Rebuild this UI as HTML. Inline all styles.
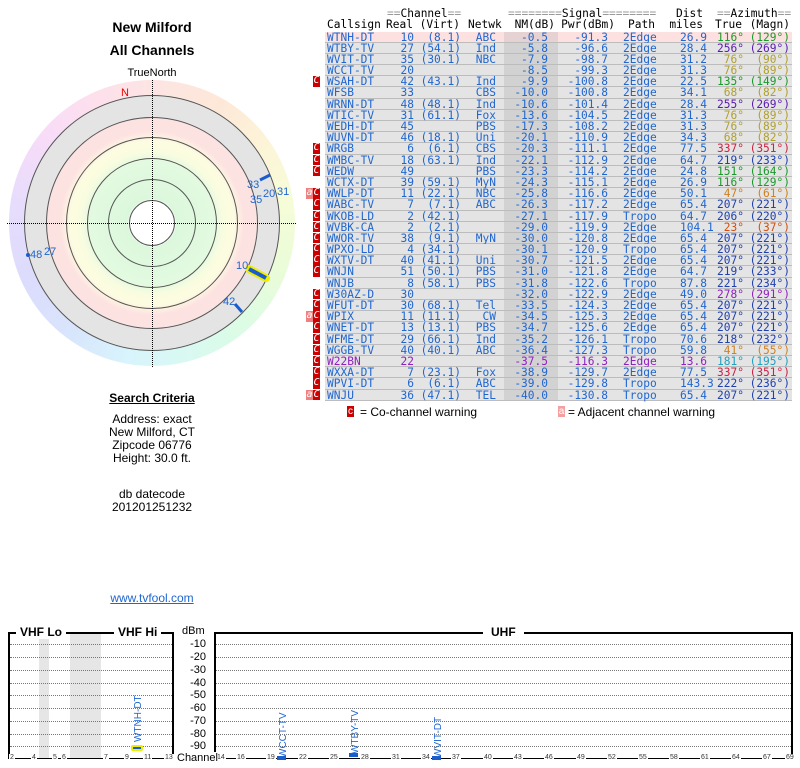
<!DOCTYPE html>
<html><head><meta charset="utf-8">
<style>
*{margin:0;padding:0;box-sizing:border-box}
body{width:800px;height:768px;background:#fff;position:relative;overflow:hidden;font-family:"Liberation Sans",sans-serif;color:#000}
.a{position:absolute}
.c{position:absolute;text-align:center}
#tbl{position:absolute;left:325px;top:31.5px;width:467px;font-family:"DejaVu Sans Mono","Liberation Mono",monospace;font-size:11.2px;color:#1f66d0}
.r{height:11.2px;line-height:11.2px;display:flex;background:#e4e4e4;border-bottom:1px solid #bcbcbc;position:relative;white-space:pre}
.r span{display:block;overflow:visible}
.s1{width:62px;padding-left:2px}
.s2{width:27px;text-align:right}
.s3{width:47px;text-align:right}
.s4{width:43px;text-align:right;padding-right:8px}
.s5{width:54px;text-align:right;padding-right:10px;background:#d2d2d2}
.s6{width:52px;text-align:right;padding-right:2px}
.s7{width:70px;padding-left:13px}
.s8{width:25px;text-align:right}
.s9{width:39px;text-align:right}
.s10{width:48px;text-align:right;padding-right:2px}
.mk{position:absolute;top:0;width:7px;height:10.5px;background:#c00;color:#fff;font-size:10px;line-height:10px;text-align:center;left:-12px}
.ma{position:absolute;top:0;width:7px;height:10.5px;background:#f08080;color:#fff;font-size:10px;line-height:10px;text-align:center;left:-19px}
.g{color:#1a9a2a}.p{color:#5a1ab0}.o{color:#b0a030}.cr{color:#cc2244}.b{color:#2040b0}.or{color:#d08020}.rr{color:#d05010}.t{color:#22a0c0}.m{color:#9020c0}
.h{position:absolute;font-family:"DejaVu Sans Mono","Liberation Mono",monospace;font-size:11.2px;white-space:pre;line-height:12px;color:#000}
.hr{text-align:right}
.eq{color:#999}
.tk{position:absolute;font-size:7px;color:#333;top:754px;background:#fff;padding:0 1px}
.dl{position:absolute;left:190px;width:16px;text-align:right;font-size:11px}
.hl{position:absolute;height:0;border-top:1px dotted #777}
</style></head><body>

<div class="c" style="left:52px;width:200px;top:19px;font-weight:bold;font-size:14px">New Milford</div>
<div class="c" style="left:52px;width:200px;top:42px;font-weight:bold;font-size:14px">All Channels</div>
<div class="c" style="left:102px;width:100px;top:67px;font-size:11px">TrueNorth</div>

<div class="a" style="left:9px;top:80px;width:286px;height:286px;border-radius:50%;background:conic-gradient(#fde4e4,#fde8d8 30deg,#fdf4d8 55deg,#f6fcd8 80deg,#eafcd8 110deg,#dcfce6 140deg,#d8f8f4 170deg,#d8f4fc 190deg,#d8e6fc 215deg,#dcdcfc 245deg,#e8dcfc 280deg,#f8dcf8 310deg,#fde0ec 335deg,#fde4e4)"></div>
<div class="a" style="left:24px;top:95px;width:256px;height:256px;border-radius:50%;background:radial-gradient(circle,#fff 0,#fff 23px,#dcf8dc 24px,#e2fae0 62px,#fafce0 72px,#fcfce0 82px,#fde2e2 92px,#fde2e2 104px,#e4e4e4 107px,#e4e4e4 128px);border:1px solid #555"></div>
<div class="a" style="left:46px;top:117px;width:212px;height:212px;border-radius:50%;border:1px solid #555"></div>
<div class="a" style="left:66px;top:137px;width:172px;height:172px;border-radius:50%;border:1px solid #555"></div>
<div class="a" style="left:87px;top:158px;width:130px;height:130px;border-radius:50%;border:1px solid #555"></div>
<div class="a" style="left:108px;top:179px;width:88px;height:88px;border-radius:50%;border:1px solid #555"></div>
<div class="a" style="left:129px;top:200px;width:46px;height:46px;border-radius:50%;border:1px solid #555;background:#fff"></div>
<div class="a" style="left:7px;top:223px;width:289px;border-top:1px dotted #000"></div>
<div class="a" style="left:152px;top:80px;height:287px;border-left:1px dotted #000"></div>
<div class="a" style="left:121px;top:87px;color:#e00;font-size:11px">N</div>
<svg class="a" style="left:0;top:0" width="300" height="400">
<line x1="260" y1="180" x2="270" y2="175" stroke="#1a5ccc" stroke-width="3"/>
<line x1="249" y1="269" x2="266" y2="278" stroke="#ee0" stroke-width="8" stroke-linecap="round"/>
<line x1="249" y1="269" x2="266" y2="278" stroke="#1a5ccc" stroke-width="4"/>
<line x1="235" y1="304" x2="242" y2="312" stroke="#1a5ccc" stroke-width="3"/>
<circle cx="28" cy="255" r="2" fill="#1a5ccc"/>
<g font-family="Liberation Sans" font-size="11" fill="#1f66d0">
<text x="247" y="188">33</text>
<text x="250" y="203">35</text><text x="263" y="197">20</text><text x="277" y="195">31</text>
<text x="236" y="269">10</text><text x="223" y="305">42</text>
<text x="30" y="258">48</text><text x="44" y="255">27</text>
</g></svg>

<div class="c" style="left:52px;width:200px;top:391px;font-weight:bold;font-size:12px;text-decoration:underline">Search Criteria</div>
<div class="c" style="left:52px;width:200px;top:413px;font-size:12px;line-height:13px">Address: exact<br>New Milford, CT<br>Zipcode 06776<br>Height: 30.0 ft.</div>
<div class="c" style="left:52px;width:200px;top:488px;font-size:12px;line-height:13px">db datecode<br>201201251232</div>
<div class="c" style="left:52px;width:200px;top:591px;font-size:12px;color:#1f66d0;text-decoration:underline">www.tvfool.com</div>

<!-- header -->
<div class="h" style="left:387px;top:8px"><span class="eq">==</span>Channel<span class="eq">==</span></div>
<div class="h" style="left:508px;top:8px"><span class="eq">========</span>Signal<span class="eq">========</span></div>
<div class="h hr" style="left:653px;width:50px;top:8px">Dist</div>
<div class="h" style="left:717px;top:8px"><span class="eq">==</span>Azimuth<span class="eq">==</span></div>
<div class="h" style="left:327px;top:19px">Callsign</div>
<div class="h hr" style="left:380px;width:33px;top:19px">Real</div>
<div class="h hr" style="left:410px;width:50px;top:19px">(Virt)</div>
<div class="h" style="left:468px;top:19px">Netwk</div>
<div class="h hr" style="left:505px;width:50px;top:19px">NM(dB)</div>
<div class="h hr" style="left:555px;width:60px;top:19px">Pwr(dBm)</div>
<div class="h hr" style="left:615px;width:40px;top:19px">Path</div>
<div class="h hr" style="left:663px;width:40px;top:19px">miles</div>
<div class="h hr" style="left:706px;width:36px;top:19px">True</div>
<div class="h hr" style="left:745px;width:45px;top:19px">(Magn)</div>

<div id="tbl">
<div class="r" style="background:#fde0e0"><span class="s1">WTNH-DT</span><span class="s2">10</span><span class="s3">(8.1)</span><span class="s4">ABC</span><span class="s5" style="background:#e6d2d2">-0.5</span><span class="s6">-91.3</span><span class="s7">2Edge</span><span class="s8">26.9</span><span class="s9 g">116°</span><span class="s10 g">(129°)</span></div>
<div class="r"><span class="s1">WTBY-TV</span><span class="s2">27</span><span class="s3">(54.1)</span><span class="s4">Ind</span><span class="s5">-5.8</span><span class="s6">-96.6</span><span class="s7">2Edge</span><span class="s8">28.4</span><span class="s9 p">256°</span><span class="s10 p">(269°)</span></div>
<div class="r"><span class="s1">WVIT-DT</span><span class="s2">35</span><span class="s3">(30.1)</span><span class="s4">NBC</span><span class="s5">-7.9</span><span class="s6">-98.7</span><span class="s7">2Edge</span><span class="s8">31.2</span><span class="s9 o">76°</span><span class="s10 o">(90°)</span></div>
<div class="r"><span class="s1">WCCT-TV</span><span class="s2">20</span><span class="s3"></span><span class="s4"></span><span class="s5">-8.5</span><span class="s6">-99.3</span><span class="s7">2Edge</span><span class="s8">31.3</span><span class="s9 o">76°</span><span class="s10 o">(89°)</span></div>
<div class="r"><i class="mk">C</i><span class="s1">WSAH-DT</span><span class="s2">42</span><span class="s3">(43.1)</span><span class="s4">Ind</span><span class="s5">-9.9</span><span class="s6">-100.8</span><span class="s7">2Edge</span><span class="s8">22.5</span><span class="s9 g">135°</span><span class="s10 g">(149°)</span></div>
<div class="r"><span class="s1">WFSB</span><span class="s2">33</span><span class="s3"></span><span class="s4">CBS</span><span class="s5">-10.0</span><span class="s6">-100.8</span><span class="s7">2Edge</span><span class="s8">34.1</span><span class="s9 o">68°</span><span class="s10 o">(82°)</span></div>
<div class="r"><span class="s1">WRNN-DT</span><span class="s2">48</span><span class="s3">(48.1)</span><span class="s4">Ind</span><span class="s5">-10.6</span><span class="s6">-101.4</span><span class="s7">2Edge</span><span class="s8">28.4</span><span class="s9 p">255°</span><span class="s10 p">(269°)</span></div>
<div class="r"><span class="s1">WTIC-TV</span><span class="s2">31</span><span class="s3">(61.1)</span><span class="s4">Fox</span><span class="s5">-13.6</span><span class="s6">-104.5</span><span class="s7">2Edge</span><span class="s8">31.3</span><span class="s9 o">76°</span><span class="s10 o">(89°)</span></div>
<div class="r"><span class="s1">WEDH-DT</span><span class="s2">45</span><span class="s3"></span><span class="s4">PBS</span><span class="s5">-17.3</span><span class="s6">-108.2</span><span class="s7">2Edge</span><span class="s8">31.3</span><span class="s9 o">76°</span><span class="s10 o">(89°)</span></div>
<div class="r"><span class="s1">WUVN-DT</span><span class="s2">46</span><span class="s3">(18.1)</span><span class="s4">Uni</span><span class="s5">-20.1</span><span class="s6">-110.9</span><span class="s7">2Edge</span><span class="s8">34.3</span><span class="s9 o">68°</span><span class="s10 o">(82°)</span></div>
<div class="r"><i class="mk">C</i><span class="s1">WRGB</span><span class="s2">6</span><span class="s3">(6.1)</span><span class="s4">CBS</span><span class="s5">-20.3</span><span class="s6">-111.1</span><span class="s7">2Edge</span><span class="s8">77.5</span><span class="s9 cr">337°</span><span class="s10 cr">(351°)</span></div>
<div class="r"><i class="mk">C</i><span class="s1">WMBC-TV</span><span class="s2">18</span><span class="s3">(63.1)</span><span class="s4">Ind</span><span class="s5">-22.1</span><span class="s6">-112.9</span><span class="s7">2Edge</span><span class="s8">64.7</span><span class="s9 b">219°</span><span class="s10 b">(233°)</span></div>
<div class="r"><i class="mk">C</i><span class="s1">WEDW</span><span class="s2">49</span><span class="s3"></span><span class="s4">PBS</span><span class="s5">-23.3</span><span class="s6">-114.2</span><span class="s7">2Edge</span><span class="s8">24.8</span><span class="s9 g">151°</span><span class="s10 g">(164°)</span></div>
<div class="r"><span class="s1">WCTX-DT</span><span class="s2">39</span><span class="s3">(59.1)</span><span class="s4">MyN</span><span class="s5">-24.3</span><span class="s6">-115.1</span><span class="s7">2Edge</span><span class="s8">26.9</span><span class="s9 g">116°</span><span class="s10 g">(129°)</span></div>
<div class="r"><i class="ma">a</i><i class="mk">C</i><span class="s1">WWLP-DT</span><span class="s2">11</span><span class="s3">(22.1)</span><span class="s4">NBC</span><span class="s5">-25.8</span><span class="s6">-116.6</span><span class="s7">2Edge</span><span class="s8">50.1</span><span class="s9 or">47°</span><span class="s10 or">(61°)</span></div>
<div class="r"><i class="mk">C</i><span class="s1">WABC-TV</span><span class="s2">7</span><span class="s3">(7.1)</span><span class="s4">ABC</span><span class="s5">-26.3</span><span class="s6">-117.2</span><span class="s7">2Edge</span><span class="s8">65.4</span><span class="s9 b">207°</span><span class="s10 b">(221°)</span></div>
<div class="r"><i class="mk">C</i><span class="s1">WKOB-LD</span><span class="s2">2</span><span class="s3">(42.1)</span><span class="s4"></span><span class="s5">-27.1</span><span class="s6">-117.9</span><span class="s7">Tropo</span><span class="s8">64.7</span><span class="s9 b">206°</span><span class="s10 b">(220°)</span></div>
<div class="r"><i class="mk">C</i><span class="s1">WVBK-CA</span><span class="s2">2</span><span class="s3">(2.1)</span><span class="s4"></span><span class="s5">-29.0</span><span class="s6">-119.9</span><span class="s7">2Edge</span><span class="s8">104.1</span><span class="s9 rr">23°</span><span class="s10 rr">(37°)</span></div>
<div class="r"><i class="mk">C</i><span class="s1">WWOR-TV</span><span class="s2">38</span><span class="s3">(9.1)</span><span class="s4">MyN</span><span class="s5">-30.0</span><span class="s6">-120.8</span><span class="s7">2Edge</span><span class="s8">65.4</span><span class="s9 b">207°</span><span class="s10 b">(221°)</span></div>
<div class="r"><i class="mk">C</i><span class="s1">WPXO-LD</span><span class="s2">4</span><span class="s3">(34.1)</span><span class="s4"></span><span class="s5">-30.1</span><span class="s6">-120.9</span><span class="s7">Tropo</span><span class="s8">65.4</span><span class="s9 b">207°</span><span class="s10 b">(221°)</span></div>
<div class="r"><i class="mk">C</i><span class="s1">WXTV-DT</span><span class="s2">40</span><span class="s3">(41.1)</span><span class="s4">Uni</span><span class="s5">-30.7</span><span class="s6">-121.5</span><span class="s7">2Edge</span><span class="s8">65.4</span><span class="s9 b">207°</span><span class="s10 b">(221°)</span></div>
<div class="r"><i class="mk">C</i><span class="s1">WNJN</span><span class="s2">51</span><span class="s3">(50.1)</span><span class="s4">PBS</span><span class="s5">-31.0</span><span class="s6">-121.8</span><span class="s7">2Edge</span><span class="s8">64.7</span><span class="s9 b">219°</span><span class="s10 b">(233°)</span></div>
<div class="r"><span class="s1">WNJB</span><span class="s2">8</span><span class="s3">(58.1)</span><span class="s4">PBS</span><span class="s5">-31.8</span><span class="s6">-122.6</span><span class="s7">Tropo</span><span class="s8">87.8</span><span class="s9 b">221°</span><span class="s10 b">(234°)</span></div>
<div class="r"><i class="mk">C</i><span class="s1">W30AZ-D</span><span class="s2">30</span><span class="s3"></span><span class="s4"></span><span class="s5">-32.0</span><span class="s6">-122.9</span><span class="s7">2Edge</span><span class="s8">49.0</span><span class="s9 m">278°</span><span class="s10 m">(291°)</span></div>
<div class="r"><i class="mk">C</i><span class="s1">WFUT-DT</span><span class="s2">30</span><span class="s3">(68.1)</span><span class="s4">Tel</span><span class="s5">-33.5</span><span class="s6">-124.3</span><span class="s7">2Edge</span><span class="s8">65.4</span><span class="s9 b">207°</span><span class="s10 b">(221°)</span></div>
<div class="r"><i class="ma">a</i><i class="mk">C</i><span class="s1">WPIX</span><span class="s2">11</span><span class="s3">(11.1)</span><span class="s4">CW</span><span class="s5">-34.5</span><span class="s6">-125.3</span><span class="s7">2Edge</span><span class="s8">65.4</span><span class="s9 b">207°</span><span class="s10 b">(221°)</span></div>
<div class="r"><i class="mk">C</i><span class="s1">WNET-DT</span><span class="s2">13</span><span class="s3">(13.1)</span><span class="s4">PBS</span><span class="s5">-34.7</span><span class="s6">-125.6</span><span class="s7">2Edge</span><span class="s8">65.4</span><span class="s9 b">207°</span><span class="s10 b">(221°)</span></div>
<div class="r"><i class="mk">C</i><span class="s1">WFME-DT</span><span class="s2">29</span><span class="s3">(66.1)</span><span class="s4">Ind</span><span class="s5">-35.2</span><span class="s6">-126.1</span><span class="s7">Tropo</span><span class="s8">70.6</span><span class="s9 b">218°</span><span class="s10 b">(232°)</span></div>
<div class="r"><i class="mk">C</i><span class="s1">WGGB-TV</span><span class="s2">40</span><span class="s3">(40.1)</span><span class="s4">ABC</span><span class="s5">-36.4</span><span class="s6">-127.3</span><span class="s7">Tropo</span><span class="s8">59.8</span><span class="s9 or">41°</span><span class="s10 or">(55°)</span></div>
<div class="r m"><i class="mk">C</i><span class="s1">W22BN</span><span class="s2">22</span><span class="s3"></span><span class="s4"></span><span class="s5">-37.5</span><span class="s6">-116.3</span><span class="s7">2Edge</span><span class="s8">13.6</span><span class="s9 t">181°</span><span class="s10 t">(195°)</span></div>
<div class="r"><i class="mk">C</i><span class="s1">WXXA-DT</span><span class="s2">7</span><span class="s3">(23.1)</span><span class="s4">Fox</span><span class="s5">-38.9</span><span class="s6">-129.7</span><span class="s7">2Edge</span><span class="s8">77.5</span><span class="s9 cr">337°</span><span class="s10 cr">(351°)</span></div>
<div class="r"><i class="mk">C</i><span class="s1">WPVI-DT</span><span class="s2">6</span><span class="s3">(6.1)</span><span class="s4">ABC</span><span class="s5">-39.0</span><span class="s6">-129.8</span><span class="s7">Tropo</span><span class="s8">143.3</span><span class="s9 b">222°</span><span class="s10 b">(236°)</span></div>
<div class="r"><i class="ma">a</i><i class="mk">C</i><span class="s1">WNJU</span><span class="s2">36</span><span class="s3">(47.1)</span><span class="s4">TEL</span><span class="s5">-40.0</span><span class="s6">-130.8</span><span class="s7">Tropo</span><span class="s8">65.4</span><span class="s9 b">207°</span><span class="s10 b">(221°)</span></div>
</div>

<div class="a" style="left:347px;top:406px;width:7px;height:11px;background:#c00;color:#fff;font-size:10px;line-height:11px;text-align:center">c</div>
<div class="a" style="left:360px;top:405px;font-size:12px">= Co-channel warning</div>
<div class="a" style="left:558px;top:406px;width:7px;height:11px;background:#f4a0a0;color:#fff;font-size:10px;line-height:11px;text-align:center">a</div>
<div class="a" style="left:568px;top:405px;font-size:12px">= Adjacent channel warning</div>

<!-- bottom chart -->
<div class="a" style="left:39px;top:633px;width:10px;height:125px;background:#e6e6e6"></div>
<div class="a" style="left:70px;top:633px;width:31px;height:125px;background:#e6e6e6"></div>
<div class="a" style="left:8px;top:632px;width:166px;height:127px;border:2px solid #000;border-bottom:none"></div>
<div class="a" style="left:214px;top:632px;width:579px;height:127px;border:2px solid #000;border-bottom:none"></div>
<div class="a" style="left:16px;top:625px;background:#fff;padding:0 4px;font-weight:bold;font-size:12px">VHF Lo</div>
<div class="a" style="left:114px;top:625px;background:#fff;padding:0 4px;font-weight:bold;font-size:12px">VHF Hi</div>
<div class="a" style="left:483px;top:625px;background:#fff;padding:0 8px;font-weight:bold;font-size:12px">UHF</div>
<div class="hl" style="left:10px;width:162px;top:644px"></div><div class="hl" style="left:216px;width:575px;top:644px"></div>
<div class="hl" style="left:10px;width:162px;top:657px"></div><div class="hl" style="left:216px;width:575px;top:657px"></div>
<div class="hl" style="left:10px;width:162px;top:670px"></div><div class="hl" style="left:216px;width:575px;top:670px"></div>
<div class="hl" style="left:10px;width:162px;top:683px"></div><div class="hl" style="left:216px;width:575px;top:683px"></div>
<div class="hl" style="left:10px;width:162px;top:695px"></div><div class="hl" style="left:216px;width:575px;top:695px"></div>
<div class="hl" style="left:10px;width:162px;top:708px"></div><div class="hl" style="left:216px;width:575px;top:708px"></div>
<div class="hl" style="left:10px;width:162px;top:721px"></div><div class="hl" style="left:216px;width:575px;top:721px"></div>
<div class="hl" style="left:10px;width:162px;top:734px"></div><div class="hl" style="left:216px;width:575px;top:734px"></div>
<div class="hl" style="left:10px;width:162px;top:746px"></div><div class="hl" style="left:216px;width:575px;top:746px"></div>
<div class="a" style="left:8px;top:758px;width:166px;border-top:1px solid #000"></div>
<div class="a" style="left:214px;top:758px;width:579px;border-top:1px solid #000"></div>
<div class="a" style="left:182px;top:625px;font-size:11px">dBm</div>
<div class="dl" style="top:638px">-10</div><div class="dl" style="top:651px">-20</div><div class="dl" style="top:664px">-30</div>
<div class="dl" style="top:677px">-40</div><div class="dl" style="top:689px">-50</div><div class="dl" style="top:702px">-60</div>
<div class="dl" style="top:715px">-70</div><div class="dl" style="top:728px">-80</div><div class="dl" style="top:740px">-90</div>
<div class="tk" style="left:9px">2</div><div class="tk" style="left:31px">4</div><div class="tk" style="left:52px">5</div><div class="tk" style="left:61px">6</div>
<div class="tk" style="left:103px">7</div><div class="tk" style="left:124px">9</div><div class="tk" style="left:143px">11</div><div class="tk" style="left:164px">13</div>
<div class="tk" style="left:216px">14</div><div class="tk" style="left:236px">16</div><div class="tk" style="left:266px">19</div><div class="tk" style="left:298px">22</div>
<div class="tk" style="left:329px">25</div><div class="tk" style="left:360px">28</div><div class="tk" style="left:391px">31</div><div class="tk" style="left:421px">34</div>
<div class="tk" style="left:451px">37</div><div class="tk" style="left:483px">40</div><div class="tk" style="left:513px">43</div><div class="tk" style="left:544px">46</div>
<div class="tk" style="left:576px">49</div><div class="tk" style="left:607px">52</div><div class="tk" style="left:638px">55</div><div class="tk" style="left:669px">58</div>
<div class="tk" style="left:700px">61</div><div class="tk" style="left:731px">64</div><div class="tk" style="left:762px">67</div><div class="tk" style="left:785px">69</div>
<div class="a" style="left:177px;top:752px;font-size:11px;background:#fff;z-index:2">Channel</div>
<div class="a" style="left:131px;top:745px;width:12px;height:6px;background:#1a5ccc;border:2px solid #ee0;border-radius:2px"></div>
<div class="a" style="left:277px;top:756px;width:9px;height:4px;background:#1a5ccc"></div>
<div class="a" style="left:349px;top:753px;width:9px;height:4px;background:#1a5ccc"></div>
<div class="a" style="left:432px;top:756px;width:9px;height:4px;background:#1a5ccc"></div>
<svg class="a" style="left:0;top:680px" width="800" height="88">
<g font-family="Liberation Sans" font-size="10" fill="#1f66d0">
<text transform="translate(141,62) rotate(-90)">WTNH-DT</text>
<text transform="translate(286,78) rotate(-90)">WCCT-TV</text>
<text transform="translate(358,74) rotate(-90)">WTBY-TV</text>
<text transform="translate(441,78) rotate(-90)">WVIT-DT</text>
</g></svg>
</body></html>
